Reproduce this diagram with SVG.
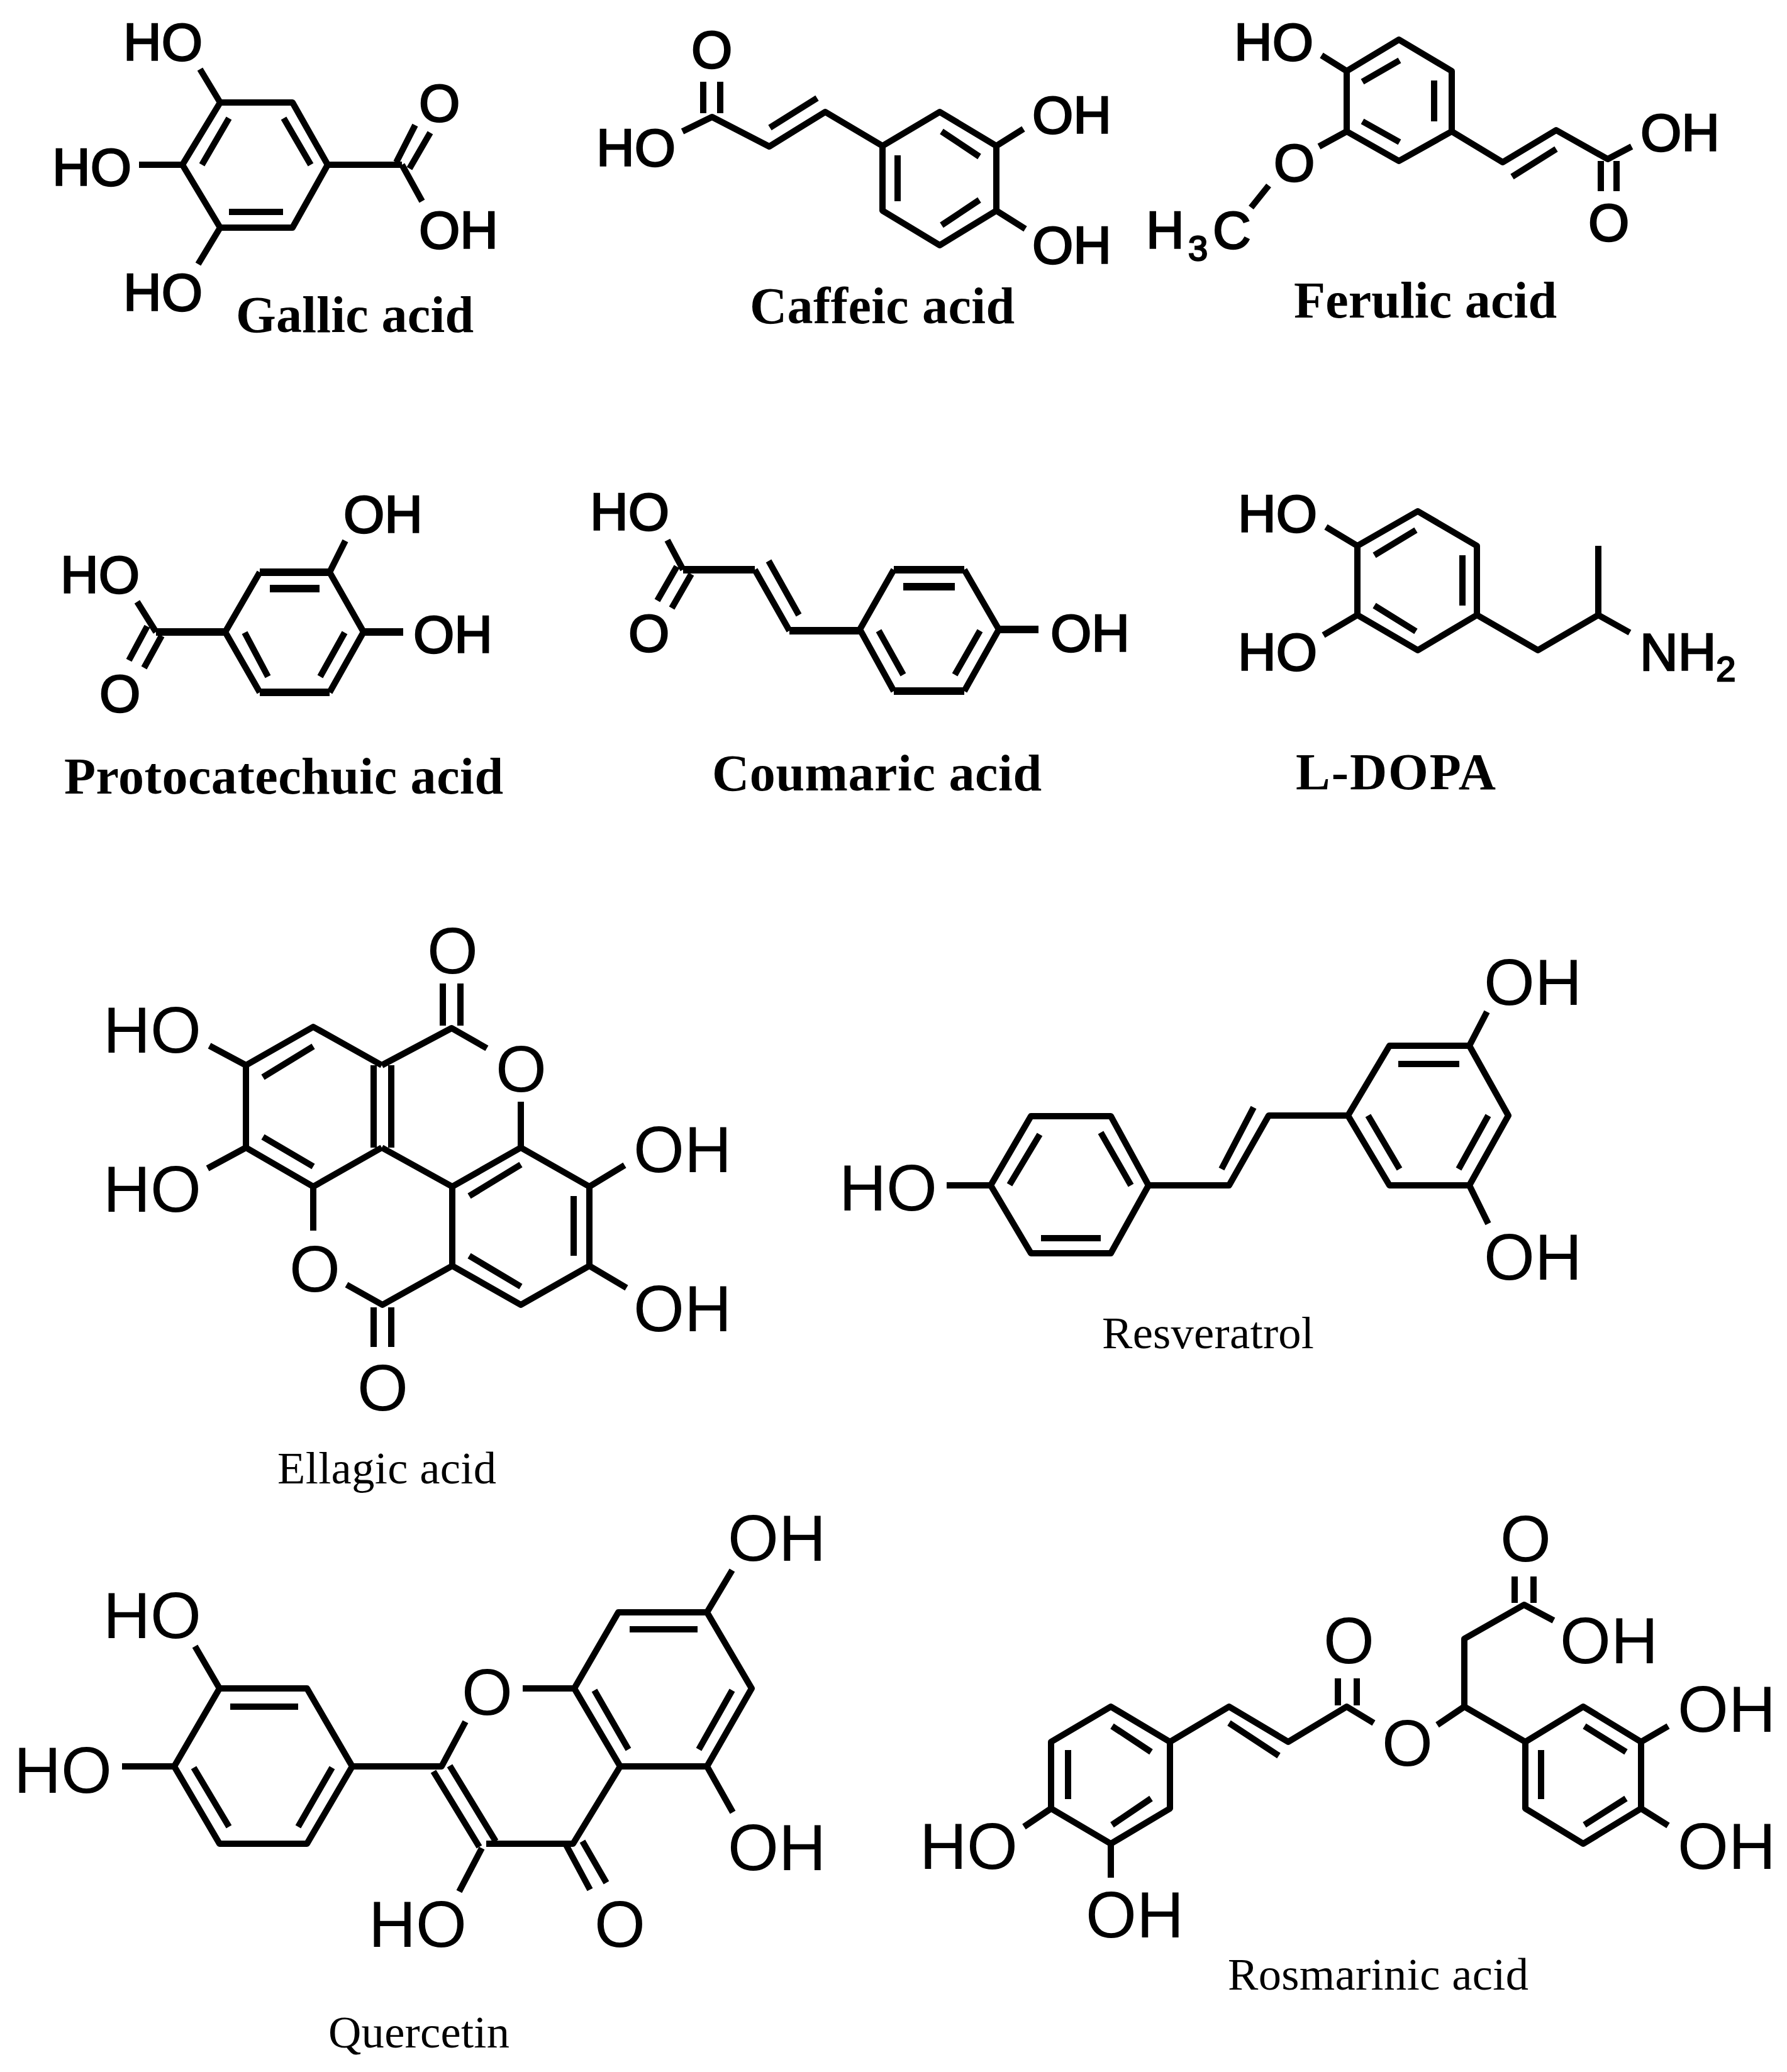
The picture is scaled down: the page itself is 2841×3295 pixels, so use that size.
<svg xmlns="http://www.w3.org/2000/svg" width="2841" height="3295" viewBox="0 0 2841 3295">
<style>
.b{fill:none;stroke:#000;stroke-width:10;stroke-linejoin:round;stroke-linecap:butt}
.h{stroke-width:12}
.a{font-family:"Liberation Sans",Arial,sans-serif;font-size:84px;fill:#000;stroke:#000;stroke-width:2.5px}
.s{font-size:56px}
.c{font-family:"Liberation Sans",Arial,sans-serif;font-size:104px;fill:#000}
.l{font-family:"Liberation Serif","Times New Roman",serif;font-size:82px;font-weight:700;fill:#000}
.n{font-family:"Liberation Serif","Times New Roman",serif;font-size:72.5px;fill:#000}
</style>
<rect width="2841" height="3295" fill="#fff"/>
<g id="gallic-acid">
<path class="b" d="M350 163L465 163L521 262L465 362L350 362L290 262ZM364 188L321 262M451 188L494 262M364 337L450 337M318 110L350 163M221 262L290 262M350 362L315 420M521 262L639 262M630 258L660 199M651 268L684 211M639 262L671 320"/>
<text class="a" x="196" y="96">HO</text><text class="a" x="83" y="295">HO</text><text class="a" x="196" y="494">HO</text><text class="a" x="666" y="193">O</text><text class="a" x="666" y="395">OH</text>
<text class="l" x="375" y="528" textLength="378">Gallic acid</text>
</g>
<g id="caffeic-acid">
<path class="b" d="M1085 209L1132 186L1223 233L1312 178L1403 232L1494 178L1584 232L1584 335L1494 390L1403 335L1403 232M1118 130L1118 180M1145 130L1145 180M1224 203L1299 156M1497 209L1557 249M1427 247L1427 320M1497 358L1557 318M1584 232L1627 205M1584 335L1630 364"/>
<text class="a" x="1099" y="108">O</text><text class="a" x="948" y="264">HO</text><text class="a" x="1641" y="212">OH</text><text class="a" x="1641" y="419">OH</text>
<text class="l" x="1192" y="514" textLength="421">Caffeic acid</text>
</g>
<g id="ferulic-acid">
<path class="b" d="M2141 113L2224 63L2308 113L2308 209L2224 256L2141 209ZM2166 130L2225 96M2280 128L2280 193M2166 193L2225 226M2101 88L2141 113M2141 209L2097 233M2017 295L1989 330M2308 209L2389 258L2474 207L2556 253L2594 233M2404 281L2474 237M2545 256L2545 304M2570 256L2570 304"/>
<text class="a" x="1962" y="96">HO</text><text class="a" x="2025" y="288">O</text>
<text class="a" x="1822" y="395">H<tspan class="s" x="1889" y="414">3</tspan><tspan x="1928" y="395">C</tspan></text>
<text class="a" x="2608" y="240">OH</text><text class="a" x="2525" y="383">O</text>
<text class="l" x="2057" y="505" textLength="418">Ferulic acid</text>
</g>
<g id="protocatechuic-acid">
<path class="b" d="M413 910L358 1005L413 1101M524 910L578 1005L524 1101M389 1006L426 1076M548 1006L509 1076M524 910L549 860M218 957L248 1005M234 996L205 1050M257 1011L229 1062"/>
<path class="b h" d="M413 910L524 910M413 1101L524 1101M429 936L508 936M578 1005L641 1005M358 1005L248 1005"/>
<text class="a" x="546" y="847">OH</text><text class="a" x="96" y="943">HO</text><text class="a" x="657" y="1038">OH</text><text class="a" x="158" y="1132">O</text>
<text class="l" x="102" y="1262" textLength="698">Protocatechuic acid</text>
</g>
<g id="coumaric-acid">
<path class="b" d="M1421 906L1367 1001L1421 1099M1533 906L1588 1001L1533 1099M1397 1003L1436 1073M1558 1003L1518 1073M1255 1003L1200 906M1086 906L1061 859M1270 978L1222 892M1076 901L1045 955M1099 913L1068 967"/>
<path class="b h" d="M1421 906L1533 906M1421 1099L1533 1099M1436 933L1518 933M1588 1001L1651 1001M1367 1003L1255 1003M1200 906L1086 906"/>
<text class="a" x="938" y="843">HO</text><text class="a" x="999" y="1036">O</text><text class="a" x="1670" y="1036">OH</text>
<text class="l" x="1132" y="1257" textLength="524">Coumaric acid</text>
</g>
<g id="l-dopa">
<path class="b" d="M2158 868L2254 813L2348 868L2348 978L2254 1034L2158 978ZM2185 883L2251 843M2325 883L2325 963M2185 963L2251 1004M2108 838L2158 868M2104 1010L2158 978M2348 978L2445 1034L2541 978L2541 868M2541 978L2591 1006"/>
<text class="a" x="1968" y="846">HO</text><text class="a" x="1968" y="1066">HO</text><text class="a" x="2607" y="1066">NH<tspan class="s" y="1083">2</tspan></text>
<text class="l" x="2060" y="1255" textLength="318">L-DOPA</text>
</g>
<g id="ellagic-acid">
<path class="b" d="M391 1694L498 1633L607 1694M607 1825L498 1887L391 1825L391 1694M418 1713L498 1664M418 1808L498 1855M594 1694L594 1825M622 1694L622 1825M607 1694L718 1635L774 1667M704 1564L704 1631M732 1564L732 1631M828 1752L828 1825L937 1887L937 2013L828 2075L719 2013L719 1887L828 1825M607 1825L719 1887M746 1902L828 1852M912 1902L912 1997M746 1997L828 2046M719 2013L608 2075L551 2043M594 2079L594 2142M622 2079L622 2142M498 1887L498 1957M333 1663L391 1694M330 1858L391 1825M937 1887L993 1853M937 2013L996 2048"/>
<text class="c" x="164" y="1674">HO</text><text class="c" x="164" y="1927">HO</text><text class="c" x="1007" y="1864">OH</text><text class="c" x="1007" y="2117">OH</text><text class="c" x="679" y="1548">O</text><text class="c" x="788" y="1736">O</text><text class="c" x="460" y="2054">O</text><text class="c" x="568" y="2243">O</text>
<text class="n" x="441" y="2359" textLength="348">Ellagic acid</text>
</g>
<g id="resveratrol">
<path class="b" d="M1575 1885L1639 1775L1766 1775L1826 1885L1766 1993L1639 1993ZM1653 1804L1605 1884M1750 1801L1798 1885M1655 1969L1750 1969M1505 1885L1575 1885M1826 1885L1954 1885L2017 1774L2143 1774M1942 1859L1993 1761M2143 1774L2209 1663L2336 1663L2398 1774L2336 1885L2209 1885ZM2223 1692L2320 1692M2175 1774L2225 1859M2366 1774L2319 1859M2336 1663L2364 1609M2336 1885L2366 1946"/>
<text class="c" x="1334" y="1925">HO</text><text class="c" x="2359" y="1598">OH</text><text class="c" x="2359" y="2035">OH</text>
<text class="n" x="1752" y="2144" textLength="337">Resveratrol</text>
</g>
<g id="quercetin">
<path class="b" d="M349 2685L488 2685L560 2809L488 2932L349 2932L277 2809ZM366 2714L474 2714M308 2811L364 2905M528 2811L474 2905M349 2685L310 2618M277 2809L194 2809M560 2809L702 2809L740 2738M689 2817L762 2937M715 2808L788 2928M773 2932L911 2932L986 2809M900 2934L938 3005M926 2928L964 2994M766 2939L730 3008M831 2685L913 2685L983 2564L1124 2564L1195 2685L1124 2809L986 2809L913 2685M1001 2591L1109 2591M945 2688L999 2782M1164 2688L1111 2782M1124 2564L1164 2497M1124 2809L1165 2882"/>
<text class="c" x="164" y="2605">HO</text><text class="c" x="22" y="2851">HO</text><text class="c" x="734" y="2727">O</text><text class="c" x="1157" y="2482">OH</text><text class="c" x="1157" y="2974">OH</text><text class="c" x="586" y="3096">HO</text><text class="c" x="945" y="3096">O</text>
<text class="n" x="522" y="3256" textLength="288">Quercetin</text>
</g>
<g id="rosmarinic-acid">
<path class="b" d="M1766 2714L1860 2770L1860 2876L1766 2932L1671 2876L1671 2770ZM1768 2745L1830 2786M1698 2783L1698 2861M1768 2902L1830 2860M1671 2876L1628 2905M1766 2932L1766 2986M1860 2770L1954 2714L2048 2770L2141 2714L2184 2740M1954 2740L2033 2792M2127 2669L2127 2712M2157 2669L2157 2712M2285 2743L2328 2714L2328 2606L2423 2552L2470 2577M2408 2507L2408 2549M2438 2507L2438 2549M2328 2714L2425 2770L2517 2714L2609 2770L2609 2876L2517 2932L2425 2876L2425 2770M2519 2745L2585 2786M2450 2783L2450 2861M2519 2902L2585 2860M2609 2770L2652 2745M2609 2876L2652 2903"/>
<text class="c" x="2104" y="2645">O</text><text class="c" x="2197" y="2808">O</text><text class="c" x="2385" y="2483">O</text><text class="c" x="2480" y="2645">OH</text><text class="c" x="2667" y="2754">OH</text><text class="c" x="2667" y="2972">OH</text><text class="c" x="1462" y="2972">HO</text><text class="c" x="1726" y="3081">OH</text>
<text class="n" x="1952" y="3164" textLength="478">Rosmarinic acid</text>
</g>
</svg>
